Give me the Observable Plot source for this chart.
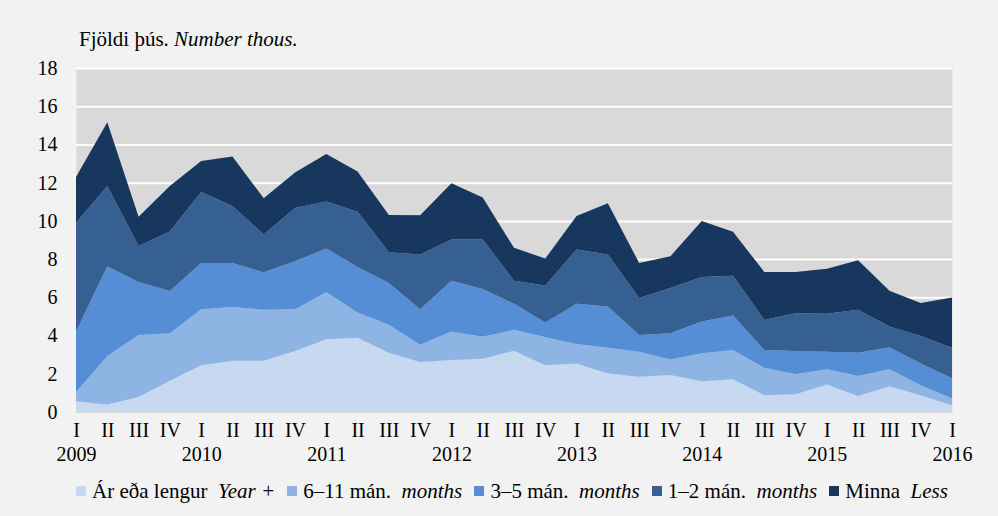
<!DOCTYPE html>
<html>
<head>
<meta charset="utf-8">
<script src="https://cdn.jsdelivr.net/npm/d3@7"></script>
<script src="https://cdn.jsdelivr.net/npm/@observablehq/plot@0.6"></script>
<style>
  html, body { margin: 0; padding: 0; background: #f2f2f2; }
  #wrap { position: relative; width: 998px; height: 516px; background: #f2f2f2; overflow: hidden;
          font-family: "Liberation Serif", Tinos, "Times New Roman", Times, "DejaVu Serif", serif; color: #000; }
  #title { position: absolute; left: 79px; top: 28px; font-size: 21px; line-height: 22px; white-space: nowrap; }
  #chart { position: absolute; left: 0; top: 0; }
  #chart svg text { font-family: "Liberation Serif", Tinos, "Times New Roman", Times, "DejaVu Serif", serif; }
  #legend { position: absolute; left: 76px; width: 872px; top: 480px; display: flex; justify-content: space-between;
            font-size: 21px; line-height: 22px; white-space: nowrap; }
  .item { display: flex; align-items: center; }
  .sw { width: 10px; height: 10px; margin-right: 6px; display: inline-block; }
</style>
</head>
<body>
<div id="wrap">
  <div id="chart"></div>
  <div id="title">Fjöldi þús. <i>Number thous.</i></div>
  <div id="legend"></div>
</div>
<script>
// Quarterly periods 2009 Q1 – 2016 Q1
const quarters = ["I","II","III","IV","I","II","III","IV","I","II","III","IV","I","II","III","IV",
                  "I","II","III","IV","I","II","III","IV","I","II","III","IV","I"];
const yearLabels = ["2009","2010","2011","2012","2013","2014","2015","2016"];
const yearTickIndex = [0,4,8,12,16,20,24,28];

// Series values (thousands), bottom to top of the stack
const yearPlus = [0.56,0.39,0.79,1.63,2.44,2.68,2.68,3.19,3.81,3.89,3.10,2.61,2.72,2.79,3.21,2.44,2.54,2.02,1.84,1.93,1.61,1.72,0.88,0.93,1.44,0.84,1.35,0.88,0.35];
const m6to11   = [0.49,2.54,3.24,2.49,2.94,2.82,2.67,2.19,2.45,1.32,1.46,0.91,1.49,1.15,1.09,1.47,1.02,1.34,1.31,0.82,1.46,1.52,1.43,1.05,0.80,1.05,0.89,0.52,0.35];
const m3to5    = [3.15,4.69,2.77,2.21,2.42,2.30,1.96,2.51,2.29,2.38,2.19,1.86,2.66,2.49,1.36,0.77,2.10,2.16,0.88,1.37,1.66,1.81,0.93,1.21,0.91,1.21,1.15,1.14,1.06];
const m1to2    = [5.70,4.21,1.88,3.12,3.71,2.98,1.98,2.78,2.46,2.89,1.61,2.86,2.16,2.60,1.21,1.94,2.84,2.72,1.93,2.37,2.34,2.08,1.58,1.98,1.99,2.25,1.08,1.44,1.60];
const less     = [2.40,3.33,1.54,2.38,1.63,2.59,1.89,1.86,2.49,2.10,1.95,2.05,2.94,2.19,1.72,1.41,1.75,2.68,1.84,1.66,2.92,2.30,2.51,2.16,2.35,2.59,1.88,1.72,2.63];

const seriesNames = ["Ár eða lengur","6–11 mán.","3–5 mán.","1–2 mán.","Minna"];
const seriesEnglish = ["Year +","months","months","months","Less"];
const yTicks = [0,2,4,6,8,10,12,14,16,18];

const seriesValues = [yearPlus, m6to11, m3to5, m1to2, less];
const colors = ["#c6d9f1","#8eb4e3","#558ed5","#376092","#17375e"];

const rows = seriesValues.flatMap((vals, s) => vals.map((v, i) => ({i, series: seriesNames[s], value: v})));

const chart = Plot.plot({
  width: 998,
  height: 470,
  marginLeft: 76,
  marginRight: 46,
  marginTop: 68,
  marginBottom: 58,
  style: {background: "transparent", fontFamily: "'Liberation Serif', Tinos, 'Times New Roman', Times, 'DejaVu Serif', serif", fontSize: "20px", color: "#000", overflow: "visible"},
  x: {domain: [0, quarters.length - 1]},
  y: {domain: [0, 18]},
  color: {domain: seriesNames, range: colors},
  marks: [
    Plot.frame({fill: "#d9d9d9", stroke: "none"}),
    Plot.ruleY(yTicks, {stroke: "white", strokeWidth: 2}),
    Plot.areaY(rows, {x: "i", y: "value", fill: "series", order: seriesNames}),
    Plot.ruleY([0], {stroke: "#d9d9d9", strokeWidth: 1.5}),
    Plot.axisY({ticks: yTicks, tickSize: 0, tickPadding: 19, label: null, fontSize: 20}),
    Plot.axisX({ticks: d3.range(quarters.length), tickFormat: i => quarters[i], tickSize: 0, tickPadding: 10, label: null, fontSize: 20}),
    Plot.axisX({ticks: yearTickIndex, tickFormat: i => yearLabels[yearTickIndex.indexOf(i)], tickSize: 0, tickPadding: 34, label: null, fontSize: 20})
  ]
});
document.getElementById("chart").appendChild(chart);

const legend = document.getElementById("legend");
seriesNames.forEach((name, k) => {
  const item = document.createElement("div");
  item.className = "item";
  item.innerHTML = `<span class="sw" style="background:${colors[k]}"></span><span>${name}&nbsp; <i>${seriesEnglish[k]}</i></span>`;
  legend.appendChild(item);
});
</script>
</body>
</html>
